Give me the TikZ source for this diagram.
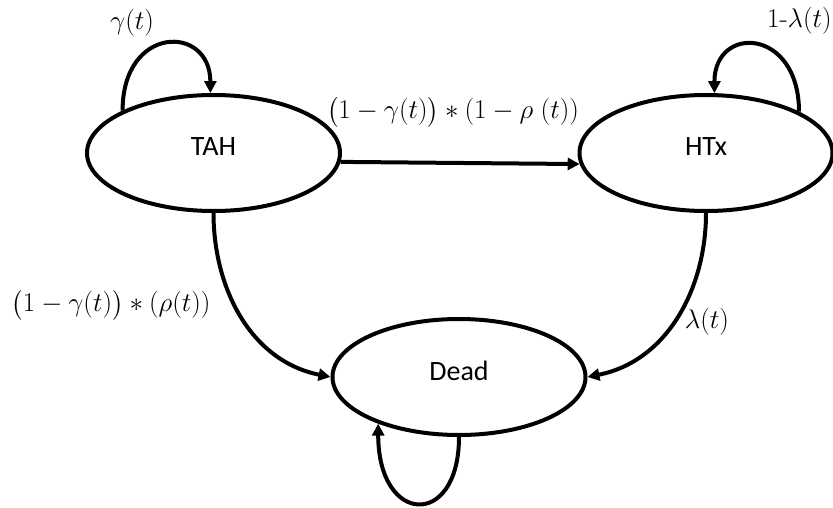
\RequirePackage{fix-cm}
\documentclass[tikz,border=0pt]{standalone}
\usepackage{amsmath}
\usepackage{fontspec}
\newfontfamily\statefont{Carlito}
\usetikzlibrary{shapes.geometric,arrows.meta}

\tikzset{
  state/.style={ellipse, draw=black, line width=4pt, minimum width=253pt,
    minimum height=116pt, inner sep=0pt, text depth=12pt,
    font=\statefont\fontsize{28}{32}\selectfont},
  arr/.style={line width=4pt, -{Triangle[length=12pt,width=12pt]}},
  lbl/.style={inner sep=0pt, font=\fontsize{27}{31}\selectfont}
}

\begin{document}
\begin{tikzpicture}[x=1pt,y=-1pt]
  \useasboundingbox (0,0) rectangle (833,508);

  % states
  \node[state] (tah)  at (213.5,153) {TAH};
  \node[state] (htx)  at (706,153)   {HTx};
  \node[state] (dead) at (459,377)   {Dead};

  % transitions between states
  \draw[arr] (tah.-4) -- (htx.185);
  \draw[arr] (tah.south) .. controls +(0,75) and +(-80,-16) .. (dead.west);
  \draw[arr] (htx.south) .. controls +(0,75) and +(80,-16) .. (dead.east);

  % self-loops
  \draw[arr] (tah.155) .. controls +(0,-86) and +(0,-69) .. (tah.93);
  \draw[arr] (htx.24) .. controls +(0,-84) and +(0,-69) .. (htx.82);
  \draw[arr] (dead.270) .. controls +(0,92) and +(0,102) .. (dead.210);

  % transition probabilities
  \node[lbl] (lgam) at (132,23) {$\gamma(t)$};
  \node[lbl, anchor=east] (llam) at (832,21) {1-$\lambda(t)$};
  \node[lbl] (lth) at (453,112) {$\bigl(1-\gamma(t)\bigr)*(1-\rho\;(t))$};
  \node[lbl] (ltd) at (111,305) {$\bigl(1-\gamma(t)\bigr)*(\rho(t))$};
  \node[lbl] (lhd) at (707,322) {$\lambda(t)$};
\end{tikzpicture}
\end{document}
